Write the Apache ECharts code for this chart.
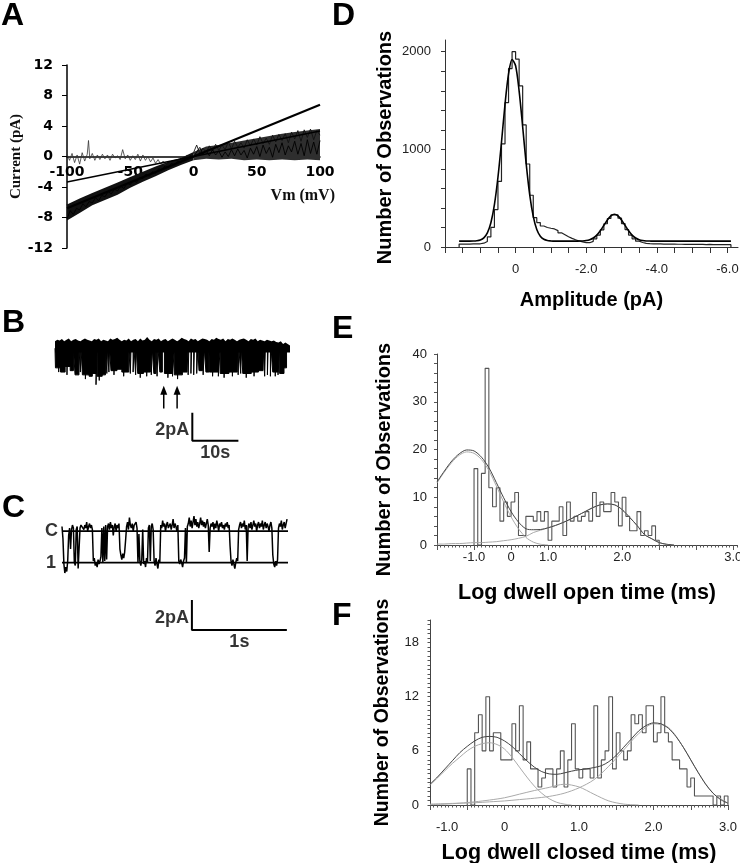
<!DOCTYPE html>
<html><head><meta charset="utf-8">
<script src="https://cdn.jsdelivr.net/npm/echarts@6/dist/echarts.min.js"></script>
<style>html,body{margin:0;padding:0;background:#fff}#c{width:740px;height:863px}</style>
</head><body><div id="c"></div>
<script>
// ---------------- DATA ----------------
// Panel A: I-V ramps
const aVm = [-100,-97.5,-95,-92.5,-90,-87.5,-85,-82.5,-80,-77.5,-75,-72.5,-70,-67.5,-65,-62.5,-60,-57.5,-55,-52.5,-50,-47.5,-45,-42.5,-40,-37.5,-35,-32.5,-30,-27.5,-25,-22.5,-20,-17.5,-15,-12.5,-10,-7.5,-5,-2.5,0,2.5,5,7.5,10,12.5,15,17.5,20,22.5,25,27.5,30,32.5,35,37.5,40,42.5,45,47.5,50,52.5,55,57.5,60,62.5,65,67.5,70,72.5,75,77.5,80,82.5,85,87.5,90,92.5,95,97.5,100];
const aTrace1 = [-8.2,-7.1,-7.6,-6.8,-7.0,-6.2,-6.6,-5.9,-6.1,-5.4,-5.8,-5.1,-5.3,-4.6,-4.9,-4.3,-4.5,-3.9,-4.2,-3.5,-3.7,-3.1,-3.4,-2.7,-2.9,-2.3,-2.6,-2.0,-2.2,-1.6,-1.8,-1.2,-1.5,-0.9,-1.1,-0.6,-0.8,-0.2,-0.4,0.1,-0.1,0.6,1.2,0.3,0.8,0.1,0.9,0.2,0.7,-0.1,0.6,0.0,0.9,0.1,1.0,0.2,0.8,-0.2,1.1,0.3,1.3,0.0,1.5,0.4,1.2,-0.1,1.6,0.5,1.8,0.2,1.4,0.6,2.0,0.3,1.7,0.1,2.2,0.4,1.9,0.3,2.1];
const aTrace2 = [-6.3,-7.4,-6.0,-6.9,-5.6,-6.4,-5.2,-6.0,-4.9,-5.6,-4.6,-5.2,-4.2,-4.9,-3.9,-4.5,-3.5,-4.1,-3.2,-3.7,-2.8,-3.3,-2.5,-3.0,-2.1,-2.6,-1.8,-2.2,-1.4,-1.9,-1.1,-1.5,-0.8,-1.2,-0.5,-0.9,-0.2,-0.6,0.2,-0.3,0.5,1.5,0.4,1.1,0.5,1.4,0.7,1.6,0.8,1.5,0.9,1.9,1.0,2.0,1.2,1.8,1.1,2.2,1.4,2.3,1.5,2.6,1.7,2.4,1.6,2.8,1.9,2.9,2.1,3.0,1.8,3.2,2.3,3.4,2.0,3.5,2.5,3.6,2.2,3.4,2.8];
const aTrace3Vm = [-100,-98,-96,-94,-92,-90,-88,-86,-84,-83,-82,-80,-78,-76,-74,-72,-70,-68,-66,-64,-62,-60,-58,-56,-54,-52,-50,-48,-46,-44,-42,-40,-38,-36,-34,-32,-30,-28,-26,-24,-22];
const aTrace3I = [0.3,-0.5,0.4,-0.8,0.2,-1.0,0.5,-0.6,0.3,2.1,-0.3,0.4,-0.5,0.2,-0.4,0.3,-0.3,0.2,-0.5,0.3,-0.2,0.1,-0.4,0.9,-0.3,0.2,-0.5,0.1,-0.4,0.3,-0.6,0.2,-0.5,0.0,-0.7,-0.2,-0.9,-0.4,-1.0,-0.6,-1.2];
// envelope of the overlapping ramp traces
const aEnvVmNeg = [-100,-90,-80,-70,-60,-50,-40,-30,-20,-10,0];
const aEnvLowNeg = [-8.4,-7.4,-6.4,-5.7,-5.0,-4.1,-3.3,-2.6,-1.8,-1.1,-0.5];
const aEnvHighNeg = [-6.3,-5.5,-4.8,-4.1,-3.4,-2.7,-2.0,-1.3,-0.7,-0.2,0.6];
const aEnvVmPos = [0,10,20,30,40,50,60,70,80,90,100];
const aEnvLowPos = [-0.5,-0.3,-0.4,-0.3,-0.5,-0.4,-0.5,-0.4,-0.5,-0.4,-0.5];
const aEnvHighPos = [0.6,1.3,1.5,1.8,2.1,2.4,2.7,3.0,3.2,3.4,3.6];
const aFitVm = [-100, 100];
const aFitSteep = [-6.8, 6.8];
const aFitShallow = [-3.35, 3.35];

// Panel B: 51-s record. Closed-level noise band (top every 0.5 s) + opening events
const bBandDt = 0.5;
const bBandTop = [0.5,0.6,0.55,0.65,0.5,0.6,0.7,0.5,0.6,0.65,
 0.55,0.5,0.6,0.7,0.6,0.55,0.5,0.65,0.6,0.7,
 0.5,0.6,0.55,0.5,0.7,0.6,0.65,0.75,0.6,0.5,
 0.6,0.55,0.7,0.5,0.6,0.65,0.5,0.7,0.55,0.6,
 0.8,0.6,0.5,0.65,0.6,0.7,0.5,0.6,0.65,0.5,
 0.6,0.7,0.6,0.5,0.6,0.75,0.65,0.6,0.5,0.7,
 0.6,0.65,0.5,0.6,0.7,0.65,0.6,0.5,0.65,0.6,
 0.75,0.65,0.6,0.7,0.5,0.65,0.6,0.7,0.6,0.5,
 0.6,0.65,0.7,0.6,0.5,0.65,0.6,0.7,0.5,0.6,
 0.55,0.5,0.6,0.55,0.5,0.55,0.45,0.4,0.5,0.3,
 0.4,0.3,0.2];
const bBandBotT = [0, 51];
const bBandBot = [-0.3, -0.3];
// openings (start s, duration s, amplitude pA)
const bOpenStart = [0.1,1.2,2.2,3.3,4.35,5.5,5.95,7.4,8.1,8.9,9.15,10.25,11.25,11.7,12.15,13.45,14.5,16.35,16.95,17.5,17.95,19.2,20.9,21.45,22.15,22.75,23.75,25.5,25.9,27.65,28.9,29.5,30.1,30.75,31.25,32.15,32.75,33.5,35.45,35.85,37.75,39.75,40.3,40.75,42.6,44.15,45.5,46.1,46.75,47.25,48.4,48.75,49.7];
const bOpenDur = [1.1,1.0,1.1,0.7,0.85,0.15,1.45,0.7,0.8,0.25,1.1,0.7,0.15,0.15,1.3,1.05,1.5,0.15,0.2,0.15,1.25,1.5,0.2,0.45,0.2,0.55,1.75,0.4,1.75,1.0,0.15,0.15,0.15,0.25,0.75,0.25,0.65,1.95,0.4,1.9,1.8,0.15,0.15,1.85,1.55,1.0,0.15,0.15,0.15,1.15,0.35,0.95,0.55];
const bOpenAmp = [-1.4,-1.7,-1.3,-1.6,-1.9,-1.7,-1.9,-2.0,-1.8,-2.6,-2.0,-1.9,-1.8,-1.7,-1.6,-1.5,-1.7,-1.8,-1.7,-1.9,-1.8,-1.7,-1.9,-1.8,-2.0,-1.7,-1.8,-2.0,-1.9,-1.7,-1.9,-1.8,-1.9,-1.8,-1.6,-1.9,-1.7,-1.7,-2.0,-1.8,-1.7,-1.9,-1.8,-1.8,-1.7,-1.6,-2.0,-1.9,-2.0,-1.7,-1.9,-1.8,-1.4];
// brief deeper flickers inside bursts
const bSpikeStart = [0.8,2.6,6.6,9.6,12.8,14.9,18.5,19.9,24.5,26.6,34.2,36.7,38.5,41.5,43.2,47.8];
const bSpikeDur = [0.1,0.1,0.1,0.1,0.1,0.1,0.1,0.1,0.1,0.1,0.1,0.1,0.1,0.1,0.1,0.1];
const bSpikeAmp = [-1.7,-1.9,-2.2,-2.3,-1.9,-2.0,-2.1,-2.0,-2.1,-2.2,-2.0,-2.1,-2.0,-2.1,-2.0,-2.0];
const bRecordEnd = 51;
const bScaleLen = [10, 2];          // 10 s, 2 pA
const bScaleText = ['2pA', '10s'];
const bArrowT = [23.6, 26.5];

// Panel C: expanded record (pA), sampled every 0.01 s
const cDt = 0.01;
const cCurrent = [0.3,-0.5,-2.2,-2.8,-2.4,-2.7,-2.0,
 -0.3,0.2,-1.2,0.1,0.4,
 0.2,-2.1,-2.3,0.1,
 0.3,-2.5,-2.6,0.2,0.4,
 0.3,0.5,0.1,0.4,0.2,0.6,0.0,0.3,0.5,0.2,0.4,0.1,
 -2.0,-1.8,-2.3,-2.1,-2.4,-1.9,-2.2,-2.0,-1.7,
 0.2,-2.1,0.3,-2.0,0.4,-1.9,
 0.3,0.5,0.1,0.6,0.2,0.4,-0.3,0.3,0.5,0.0,0.4,0.2,0.5,
 -1.2,-1.6,-1.9,-1.5,-1.8,-1.4,-0.6,
 0.3,0.6,0.1,0.9,0.4,0.2,0.5,0.0,0.4,0.3,0.6,0.2,
 -2.1,-0.2,-2.0,-2.3,-1.9,0.1,-2.2,-2.0,-2.4,-1.8,-2.1,0.2,
 0.4,-2.0,0.3,0.5,0.1,
 -2.0,-2.3,-1.8,-2.2,-2.5,-1.9,-2.1,
 0.4,0.2,0.7,0.3,0.5,0.0,0.4,0.6,0.2,0.3,0.5,0.1,0.4,0.8,0.2,0.5,0.3,0.0,0.4,
 -2.0,-2.2,-1.9,-2.1,-2.4,-2.0,-1.8,0.2,
 -2.1,0.3,
 0.5,0.9,0.3,0.7,0.2,0.6,1.0,0.4,0.8,0.3,0.6,0.2,0.5,0.9,0.4,0.7,0.3,0.6,0.2,0.5,0.8,0.4,
 -1.4,0.2,0.5,
 0.3,0.6,0.1,0.5,0.2,0.7,0.4,0.0,0.5,0.3,0.6,0.2,0.4,0.1,0.5,0.3,0.6,0.2,0.4,
 -1.0,-2.0,-2.3,-1.9,-2.2,-2.5,-2.1,-1.8,-2.0,0.1,
 0.4,0.6,0.2,0.5,0.3,0.7,0.1,0.4,
 -2.0,
 0.3,0.5,0.2,0.6,0.1,0.4,0.7,0.3,0.5,0.0,0.4,0.6,0.2,0.5,0.3,0.7,0.1,0.4,0.6,0.2,0.5,0.3,0.0,0.4,0.6,0.2,
 -1.6,-2.2,-2.4,-2.0,-2.3,-1.9,
 0.2,0.5,0.3,0.7,0.1,0.4,0.6,0.2,0.5,0.8];
const cLevelI = [0, -2.1];
const cLevelText = ['C', '1'];
const cScaleLen = [1, 2];           // 1 s, 2 pA
const cScaleText = ['2pA', '1s'];

// Panel D: amplitude histogram (bins of 0.1 pA from +1.6 down to -6.1)
const dBinStart = 1.6, dBinWidth = -0.1;
const dCounts = [30,30,30,31,31,33,39,57,103,200,
 383,672,1056,1478,1827,2000,1925,1650,1250,850,
 530,300,250,215,200,192,185,168,145,125,
 105,88,74,62,52,45,44,58,84,122,
 176,238,292,328,330,295,240,178,122,84,
 60,46,38,34,32,31,31,30,30,29,
 29,28,28,27,27,26,27,26,26,25,
 26,25,25,24,25,24,24];
const dFitStart = 1.6, dFitStep = -0.1;
const dFit = [60,60,60,60,61,64,72,94,145,249,
 434,714,1073,1462,1772,1921,1856,1597,1232,851,
 534,313,179,110,79,66,62,60,60,60,
 60,60,60,60,61,62,66,75,92,122,
 166,221,277,319,335,319,277,221,166,122,
 92,75,66,62,61,60,60,60,60,60,
 60,60,60,60,60,60,60,60,60,60,
 60,60,60,60,60,60,60,60];
const dTickPos = [2,1.5,1,0.5,0,-0.5,-1,-1.5,-2,-2.5,-3,-3.5,-4,-4.5,-5,-5.5,-6];
const dLabelPos = [0,-2,-4,-6];
const dLabelText = ['0','-2.0','-4.0','-6.0'];
const dYTickPos = [0,200,400,600,800,1000,1200,1400,1600,1800,2000];
const dYLabelPos = [0,1000,2000];

// Panel E: open dwell-time histogram
const eBinStart = -1.0, eBinWidth = 0.1;
const eCounts = [16,0,15,37,12,8,12,5,9,6,
 9,11,2,2,6,6,5,7,5,7,
 1,5,5,8,2,9,5,6,5,6,
 7,5,11,6,9,7,7,11,9,4,
 10,6,3,3,7,2,3,2,4,1];
const eFitStart = -2.0, eFitStep = 0.2;
const eFitTotal = [13.2,15.5,17.6,19.1,19.9,19.7,18.4,16.2,13.1,9.9,7.0,4.8,3.4,3.2,3.25,3.6,4.1,4.7,5.4,6.2,7.0,7.8,8.4,8.6,8.4,7.4,5.8,4.1,2.2,1.3,0.5,0.15,0.0];
const eFitComp1 = [13.0,15.3,17.3,18.8,19.5,19.2,17.9,15.6,12.4,9.0,5.9,3.4,1.6,0.6,0.15,0.0];
const eFitComp2 = [0.2,0.2,0.3,0.3,0.4,0.5,0.5,0.6,0.7,0.9,1.1,1.4,1.8,2.6,3.1,3.6,4.1,4.7,5.4,6.2,7.0,7.8,8.4,8.6,8.4,7.4,5.8,4.1,2.2,1.3,0.5,0.15,0.0];
const eTickMajor = [-2,-1,0,1,2,3,4,5,6];
const eLabelPos = [-1,0,1,3,6];
const eLabelText = ['-1.0','0','1.0','2.0','3.0'];
const eYLabelPos = [0,10,20,30,40];

// Panel F: closed dwell-time histogram
const fBinStart = -0.5, fBinWidth = 0.05;
const fCounts = [4,0,8,10,6,12,6,8,8,5,
 5,5,9,6,11,5,7,4,4,2,
 3,4,4,2,4,6,2,5,9,4,
 3,4,4,3,11,3,5,6,12,4,
 8,6,5,6,10,9,10,8,11,11,
 7,8,12,8,7,5,5,4,4,2,
 3,1,1,1,1,1,0,1,0,1];
const fTotalStart = -1.0, fTotalStep = 0.1;
const fFitTotal = [2.3,3.1,4.0,4.9,5.8,6.5,7.1,7.5,7.6,7.5,7.1,6.5,5.7,4.9,4.2,3.7,3.45,3.4,3.55,3.75,3.9,4.0,4.15,4.35,4.8,5.5,6.4,7.3,8.2,8.8,9.1,9.0,8.5,7.6,6.4,5.0,3.6,2.3,1.3,0.6,0.2];
const fFitComp1 = [2.2,3.0,3.8,4.6,5.3,6.0,6.5,6.8,6.9,6.7,6.2,5.3,4.2,3.1,2.1,1.3,0.7,0.3,0.1,0.0];
const fCompStart = -1.0, fCompStep = 0.2;
const fFitComp2 = [0.05,0.1,0.2,0.35,0.55,0.8,1.2,1.6,1.95,2.3,2.0,1.2,0.45,0.1,0.0];
const fFitComp3 = [0.1,0.15,0.2,0.25,0.35,0.45,0.6,0.75,0.95,1.3,1.9,2.8,4.3,6.1,7.9,9.0,8.6,6.4,3.6,1.3,0.2];
const fLabelPos = [-0.77,0,1,2,3];
const fLabelText = ['-1.0','0','1.0','2.0','3.0'];
const fYLabelPos = [0,6,12,18];

const panelLetters = ['A','B','C','D','E','F'];

// ---------------- HELPERS ----------------
const SANS = "'Liberation Sans', Arial, sans-serif";
const SERIF = "'Liberation Serif', 'Times New Roman', serif";
function pairs(xs, ys) { return ys.map((y, i) => [xs[i], y]); }
function regular(start, step, vals) { return vals.map((v, i) => [+(start + step * i).toFixed(4), v]); }
function stepHist(start, w, counts) {
  const pts = [[start, 0]];
  counts.forEach((c, i) => pts.push([+(start + i * w).toFixed(4), c]));
  const end = +(start + counts.length * w).toFixed(4);
  pts.push([end, counts[counts.length - 1]]);
  pts.push([end, 0]);
  return pts;
}
// idealised record: closed (0) with rectangular openings
function eventTrace(starts, durs, amps, end) {
  const pts = [[0, 0]];
  starts.forEach((s, i) => {
    const e = +(s + durs[i]).toFixed(3);
    pts.push([s, 0], [s, amps[i]], [e, amps[i]], [e, 0]);
  });
  pts.push([end, 0]);
  return pts;
}
function lookup(pos, text) {
  return v => { const i = pos.findIndex(p => Math.abs(p - v) < 1e-6); return i >= 0 ? text[i] : ''; };
}
function L(ax, data, color, width, extra) {
  return Object.assign({ type: 'line', xAxisIndex: ax, yAxisIndex: ax, data: data, symbol: 'none',
    showSymbol: false, silent: true, animation: false, lineStyle: { color: color, width: width } }, extra || {});
}
function T(ax, items) {
  return { type: 'scatter', xAxisIndex: ax, yAxisIndex: ax, symbolSize: 0, silent: true, animation: false,
    data: items.map(p => ({ value: [p.x, p.y], label: { show: true, formatter: p.text, position: p.pos,
      distance: p.dist, offset: p.off || [0, 0], fontFamily: SANS, fontWeight: 'bold', fontSize: p.size, color: '#000' } })) };
}
// filled band between an upper and a lower curve
function band(ax, xsHi, hi, xsLo, lo, color) {
  return { type: 'custom', xAxisIndex: ax, yAxisIndex: ax, silent: true, animation: false,
    data: [[xsLo[0], lo[0]]],
    renderItem: (params, api) => {
      const top = xsHi.map((x, i) => api.coord([x, hi[i]]));
      const bot = xsLo.map((x, i) => api.coord([x, lo[i]])).reverse();
      return { type: 'polygon', shape: { points: top.concat(bot) }, style: { fill: color } };
    } };
}
const tickLbl = { fontFamily: SANS, fontSize: 13, color: '#222' };
const nameSt = (size, pad) => ({ fontFamily: SANS, fontSize: size, fontWeight: 'bold', color: '#000', padding: pad || 0 });
const hidden = (min, max) => ({ type: 'value', min: min, max: max, show: false });

const bBarT = 29.8, bBarI = -6.6;   // position of B scale-bar corner
const cBarT = 1.368, cBarI = -6.6;  // position of C scale-bar corner
const bBandT = bBandTop.map((v, i) => i * bBandDt);
const filled = { areaStyle: { color: '#000', opacity: 1, origin: 0 } };

const gridBase = { containLabel: false, outerBoundsMode: 'none' };
const option = {
  animation: false,
  backgroundColor: '#fff',
  textStyle: { fontFamily: SANS },
  grid: [
    Object.assign({ left: 67, top: 65, width: 253, height: 183 }, gridBase),   // A
    Object.assign({ left: 55, top: 330, width: 235, height: 122 }, gridBase),  // B
    Object.assign({ left: 62, top: 515, width: 226, height: 142 }, gridBase),  // C
    Object.assign({ left: 445, top: 40, width: 293, height: 207 }, gridBase),  // D
    Object.assign({ left: 437, top: 354, width: 300, height: 191 }, gridBase), // E
    Object.assign({ left: 430, top: 620, width: 298, height: 185 }, gridBase)  // F
  ],
  xAxis: [
    { gridIndex: 0, type: 'value', min: -100, max: 100, interval: 50, position: 'bottom', offset: -91.5,
      axisLine: { show: true, onZero: false, lineStyle: { color: '#000', width: 1.5 } },
      axisTick: { show: false }, splitLine: { show: false },
      axisLabel: { fontFamily: 'DejaVu Sans', fontWeight: 'bold', fontSize: 14, color: '#000', margin: 9 },
      name: 'Vm (mV)', nameLocation: 'end', nameGap: 15,
      nameTextStyle: { fontFamily: SERIF, fontWeight: 'bold', fontSize: 16, color: '#111', align: 'right', verticalAlign: 'top', padding: [31, 0, 0, 0] } },
    Object.assign({ gridIndex: 1 }, hidden(0, 51)),
    Object.assign({ gridIndex: 2 }, hidden(0, 2.38)),
    { gridIndex: 3, type: 'value', inverse: true, min: -6.3, max: 2, position: 'bottom',
      axisLine: { show: true, onZero: false, lineStyle: { color: '#333', width: 1 } },
      axisTick: { show: true, customValues: dTickPos, length: 6, lineStyle: { color: '#333' } },
      axisLabel: Object.assign({ customValues: dLabelPos, formatter: lookup(dLabelPos, dLabelText), margin: 16 }, tickLbl),
      splitLine: { show: false },
      name: 'Amplitude (pA)', nameLocation: 'middle', nameGap: 43, nameTextStyle: nameSt(20) },
    { gridIndex: 4, type: 'value', min: -2, max: 6.1, interval: 0.1, position: 'bottom',
      axisLine: { show: true, onZero: false, lineStyle: { color: '#444', width: 1 } },
      axisTick: { show: true, length: 2.5, lineStyle: { color: '#555' } },
      axisLabel: Object.assign({ customValues: eLabelPos, formatter: lookup(eLabelPos, eLabelText), margin: 6 }, tickLbl),
      splitLine: { show: false },
      name: 'Log dwell open time (ms)', nameLocation: 'middle', nameGap: 37, nameTextStyle: nameSt(21.5) },
    { gridIndex: 5, type: 'value', min: -1, max: 3, interval: 0.5, position: 'bottom',
      axisLine: { show: true, onZero: false, lineStyle: { color: '#444', width: 1 } },
      axisTick: { show: true, length: 5, lineStyle: { color: '#555' } },
      minorTick: { show: true, splitNumber: 10, length: 2.5, lineStyle: { color: '#555' } },
      axisLabel: Object.assign({ customValues: fLabelPos, formatter: lookup(fLabelPos, fLabelText), margin: 16 }, tickLbl),
      splitLine: { show: false },
      name: 'Log dwell closed time (ms)', nameLocation: 'middle', nameGap: 37, nameTextStyle: nameSt(21.5) },
    { gridIndex: 4, type: 'value', min: -2, max: 6.1, position: 'bottom',
      axisLine: { show: false, onZero: false },
      axisTick: { show: true, customValues: eTickMajor, length: 5, lineStyle: { color: '#555' } },
      axisLabel: { show: false }, splitLine: { show: false } }
  ],
  yAxis: [
    { gridIndex: 0, type: 'value', min: -12, max: 12, interval: 4,
      axisLine: { show: true, onZero: false, lineStyle: { color: '#000', width: 1.5 } },
      axisTick: { show: true, length: 5, lineStyle: { color: '#000' } }, splitLine: { show: false },
      axisLabel: { fontFamily: 'DejaVu Sans', fontWeight: 'bold', fontSize: 14, color: '#000', margin: 14 },
      name: 'Current (pA)', nameLocation: 'middle', nameGap: 42,
      nameTextStyle: { fontFamily: SERIF, fontWeight: 'bold', fontSize: 15, color: '#111' } },
    Object.assign({ gridIndex: 1 }, hidden(-7.4, 1.3)),
    Object.assign({ gridIndex: 2 }, hidden(-8.4, 1.07)),
    { gridIndex: 3, type: 'value', min: 0, max: 2120,
      axisLine: { show: true, onZero: false, lineStyle: { color: '#333', width: 1 } },
      axisTick: { show: true, customValues: dYTickPos, length: 4, lineStyle: { color: '#333' } },
      axisLabel: Object.assign({ customValues: dYLabelPos, formatter: v => String(v), margin: 14 }, tickLbl),
      splitLine: { show: false },
      name: 'Number of Observations', nameLocation: 'middle', nameGap: 50, nameTextStyle: nameSt(20, [0, 8, 0, 0]) },
    { gridIndex: 4, type: 'value', min: 0, max: 40, interval: 2,
      axisLine: { show: true, onZero: false, lineStyle: { color: '#444', width: 1 } },
      axisTick: { show: true, length: 3, lineStyle: { color: '#555' } },
      axisLabel: Object.assign({ customValues: eYLabelPos, formatter: v => String(v), margin: 10 }, tickLbl),
      splitLine: { show: false },
      name: 'Number of Observations', nameLocation: 'middle', nameGap: 43, nameTextStyle: nameSt(20, [0, 20, 0, 0]) },
    { gridIndex: 5, type: 'value', min: 0, max: 20.5, interval: 0.5,
      axisLine: { show: true, onZero: false, lineStyle: { color: '#444', width: 1 } },
      axisTick: { show: true, length: 2.5, lineStyle: { color: '#555' } },
      axisLabel: Object.assign({ customValues: fYLabelPos, formatter: v => String(v), margin: 11 }, tickLbl),
      splitLine: { show: false },
      name: 'Number of Observations', nameLocation: 'middle', nameGap: 37, nameTextStyle: nameSt(19.5) }
  ],
  graphic: panelLetters.map((t, i) => ({
    type: 'text', silent: true,
    style: { text: t, x: [1, 2, 2, 332, 332, 332][i], y: [16.5, 323, 508, 16.5, 329.5, 616][i],
      font: 'bold 32px ' + SANS, fill: '#000', align: 'left', verticalAlign: 'middle' }
  })),
  series: [
    // A
    band(0, aEnvVmNeg, aEnvHighNeg, aEnvVmNeg, aEnvLowNeg, '#111'),
    band(0, aEnvVmPos, aEnvHighPos, aEnvVmPos, aEnvLowPos, '#2e2e2e'),
    L(0, pairs(aTrace3Vm, aTrace3I), '#333', 0.8),
    L(0, pairs(aVm, aTrace2), '#111', 0.9),
    L(0, pairs(aVm, aTrace1), '#000', 0.9),
    L(0, pairs(aFitVm, aFitShallow), '#000', 1.6),
    L(0, pairs(aFitVm, aFitSteep), '#000', 2.2),
    // B
    band(1, bBandT, bBandTop, bBandBotT, bBandBot, '#000'),
    L(1, eventTrace(bOpenStart, bOpenDur, bOpenAmp, bRecordEnd), '#000', 1, filled),
    L(1, eventTrace(bSpikeStart, bSpikeDur, bSpikeAmp, bRecordEnd), '#000', 1, filled),
    L(1, [[bBarT, bBarI + bScaleLen[1]], [bBarT, bBarI], [bBarT + bScaleLen[0], bBarI]], '#000', 2),
    ...bArrowT.map(t => L(1, [{ value: [t, -4.3], symbol: 'none' }, { value: [t, -3.0], symbol: 'triangle', symbolSize: [7, 9] }],
      '#000', 1.5, { showSymbol: true, itemStyle: { color: '#000' } })),
    T(1, [
      { x: bBarT, y: bBarI + bScaleLen[1] / 2, text: bScaleText[0], pos: 'left', dist: 3, size: 18, off: [0, 3] },
      { x: bBarT + bScaleLen[0] / 2, y: bBarI, text: bScaleText[1], pos: 'bottom', dist: 3, size: 18 }
    ]),
    // C
    L(2, cCurrent.map((v, i) => [i * cDt, v]), '#000', 1.5),
    ...cLevelI.map(lv => L(2, [[0, lv], [cCurrent.length * cDt, lv]], '#000', 1.8)),
    L(2, [[cBarT, cBarI + cScaleLen[1]], [cBarT, cBarI], [cBarT + cScaleLen[0], cBarI]], '#000', 2),
    T(2, [
      { x: 0, y: cLevelI[0], text: cLevelText[0], pos: 'left', dist: 4, size: 18 },
      { x: 0, y: cLevelI[1], text: cLevelText[1], pos: 'left', dist: 6, size: 18 },
      { x: cBarT, y: cBarI + cScaleLen[1] / 2, text: cScaleText[0], pos: 'left', dist: 3, size: 18, off: [0, 3] },
      { x: cBarT + cScaleLen[0] / 2, y: cBarI, text: cScaleText[1], pos: 'bottom', dist: 3, size: 18 }
    ]),
    // D
    L(3, stepHist(dBinStart, dBinWidth, dCounts), '#222', 1.2, { step: 'end' }),
    L(3, regular(dFitStart, dFitStep, dFit), '#000', 1.6, { smooth: 0.3 }),
    // E
    L(4, stepHist(eBinStart, eBinWidth, eCounts), '#555', 1.1, { step: 'end' }),
    L(4, regular(eFitStart, eFitStep, eFitComp1), '#aaa', 1, { smooth: 0.3 }),
    L(4, regular(eFitStart, eFitStep, eFitComp2), '#aaa', 1, { smooth: 0.3 }),
    L(4, regular(eFitStart, eFitStep, eFitTotal), '#444', 1, { smooth: 0.3 }),
    // F
    L(5, stepHist(fBinStart, fBinWidth, fCounts), '#555', 1.1, { step: 'end' }),
    L(5, regular(fTotalStart, fTotalStep, fFitComp1), '#aaa', 1, { smooth: 0.3 }),
    L(5, regular(fCompStart, fCompStep, fFitComp2), '#aaa', 1, { smooth: 0.3 }),
    L(5, regular(fCompStart, fCompStep, fFitComp3), '#aaa', 1, { smooth: 0.3 }),
    L(5, regular(fTotalStart, fTotalStep, fFitTotal), '#444', 1, { smooth: 0.3 })
  ]
};
const chart = echarts.init(document.getElementById('c'));
chart.setOption(option);
</script></body></html>
